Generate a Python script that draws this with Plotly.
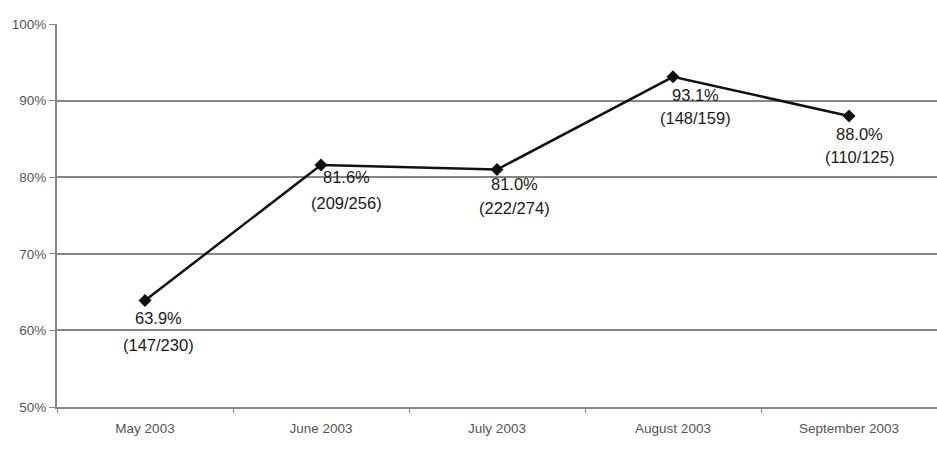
import plotly.graph_objects as go

months = ["May 2003", "June 2003", "July 2003", "August 2003", "September 2003"]
rate_pct = [63.9, 81.6, 81.0, 93.1, 88.0]
numerators = [147, 209, 222, 148, 110]
denominators = [230, 256, 274, 159, 125]
y_ticks = [50, 60, 70, 80, 90, 100]

# label placement relative to each marker, in pixels (right, down)
label_dx = [13, 25, 17, 22, 10]
label_dy1 = [17, 12, 14, 18, 18]
label_dy2 = [44, 38, 38, 41, 41]

fig = go.Figure()
fig.add_trace(go.Scatter(
    x=months, y=rate_pct, mode="lines+markers",
    line=dict(color="#111111", width=2.5),
    marker=dict(symbol="diamond", size=10, color="#111111"),
    hoverinfo="skip",
))

label_font = dict(family="Liberation Sans, Arial, sans-serif", size=16.5, color="#1a1a1a")
tick_font = dict(family="Liberation Sans, Arial, sans-serif", size=13.5, color="#555555")

annotations = []
for i, (m, p, n, d) in enumerate(zip(months, rate_pct, numerators, denominators)):
    annotations.append(dict(x=m, y=p, text=f"{p:.1f}%", showarrow=False,
                            xanchor="center", yanchor="middle",
                            xshift=label_dx[i], yshift=-label_dy1[i], font=label_font))
    annotations.append(dict(x=m, y=p, text=f"({n}/{d})", showarrow=False,
                            xanchor="center", yanchor="middle",
                            xshift=label_dx[i], yshift=-label_dy2[i], font=label_font))

fig.update_layout(
    width=937, height=457,
    margin=dict(l=57, r=0, t=24, b=50),
    paper_bgcolor="white", plot_bgcolor="white",
    showlegend=False,
    annotations=annotations,
    xaxis=dict(
        type="category", range=[-0.5, 4.5],
        showgrid=False, showline=True, linecolor="#868686", linewidth=2,
        ticks="outside", tickson="boundaries", ticklen=4, tickcolor="#868686",
        ticklabelstandoff=8,
        tickfont=tick_font, fixedrange=True,
    ),
    yaxis=dict(
        range=[50, 100], tickvals=y_ticks, ticktext=[f"{v}%" for v in y_ticks],
        showgrid=True, gridcolor="#868686", gridwidth=2,
        showline=True, linecolor="#868686", linewidth=2,
        ticks="outside", ticklen=6, tickcolor="#868686",
        tickfont=tick_font, zeroline=False, fixedrange=True,
    ),
)

fig.write_html("out.html")
